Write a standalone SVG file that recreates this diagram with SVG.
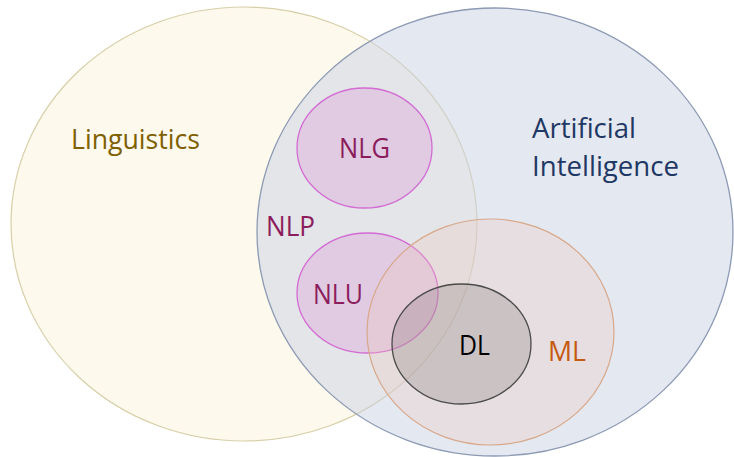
<svg xmlns="http://www.w3.org/2000/svg" width="734" height="457" viewBox="0 0 734 457">
<style>
.t{font-family:"Open Sans","Liberation Sans",sans-serif;font-size:27px}
</style>
<rect width="734" height="457" fill="#ffffff"/>
<g id="linguistics">
<ellipse cx="244" cy="224" rx="233" ry="217" fill="#fdf9ec" stroke="#d6cfa8" stroke-width="1.2"/>
<text class="t" x="71" y="149" fill="#7f6000" textLength="129" lengthAdjust="spacingAndGlyphs">Linguistics</text>
</g>
<g id="ai">
<ellipse cx="495" cy="232" rx="238" ry="224" fill="rgb(201,209,227)" fill-opacity="0.5" stroke="#8c9ab4" stroke-width="1.3"/>
<text class="t" x="532" y="138" fill="#1f3864" textLength="104" lengthAdjust="spacingAndGlyphs">Artificial</text>
<text class="t" x="532" y="176" fill="#1f3864" textLength="147" lengthAdjust="spacingAndGlyphs">Intelligence</text>
</g>
<g id="nlp">
<text class="t" x="266" y="236" fill="#8c1d5c" textLength="49" lengthAdjust="spacingAndGlyphs">NLP</text>
</g>
<g id="nlg">
<ellipse cx="364.5" cy="148" rx="67.5" ry="60" fill="rgb(220,170,220)" fill-opacity="0.45" stroke="#d36bd3" stroke-width="1.3"/>
<text class="t" x="339" y="158" fill="#8c1d5c" textLength="51" lengthAdjust="spacingAndGlyphs">NLG</text>
</g>
<g id="nlu">
<ellipse cx="367.5" cy="293" rx="70.5" ry="60" fill="rgb(220,170,220)" fill-opacity="0.45" stroke="#d36bd3" stroke-width="1.3"/>
<text class="t" x="313" y="304" fill="#8c1d5c" textLength="50" lengthAdjust="spacingAndGlyphs">NLU</text>
</g>
<g id="ml">
<ellipse cx="490.5" cy="332" rx="123.5" ry="113" fill="rgb(240,200,190)" fill-opacity="0.3" stroke="#d8a88a" stroke-width="1.2"/>
<text class="t" x="548" y="361" fill="#c55a11" textLength="38" lengthAdjust="spacingAndGlyphs">ML</text>
</g>
<g id="dl">
<ellipse cx="461.5" cy="344" rx="69.5" ry="60" fill="rgb(120,110,110)" fill-opacity="0.25" stroke="#4a4a4a" stroke-width="1.3"/>
<text class="t" x="459" y="355" fill="#000000" textLength="31" lengthAdjust="spacingAndGlyphs">DL</text>
</g>
<g id="connectors"/>
</svg>
